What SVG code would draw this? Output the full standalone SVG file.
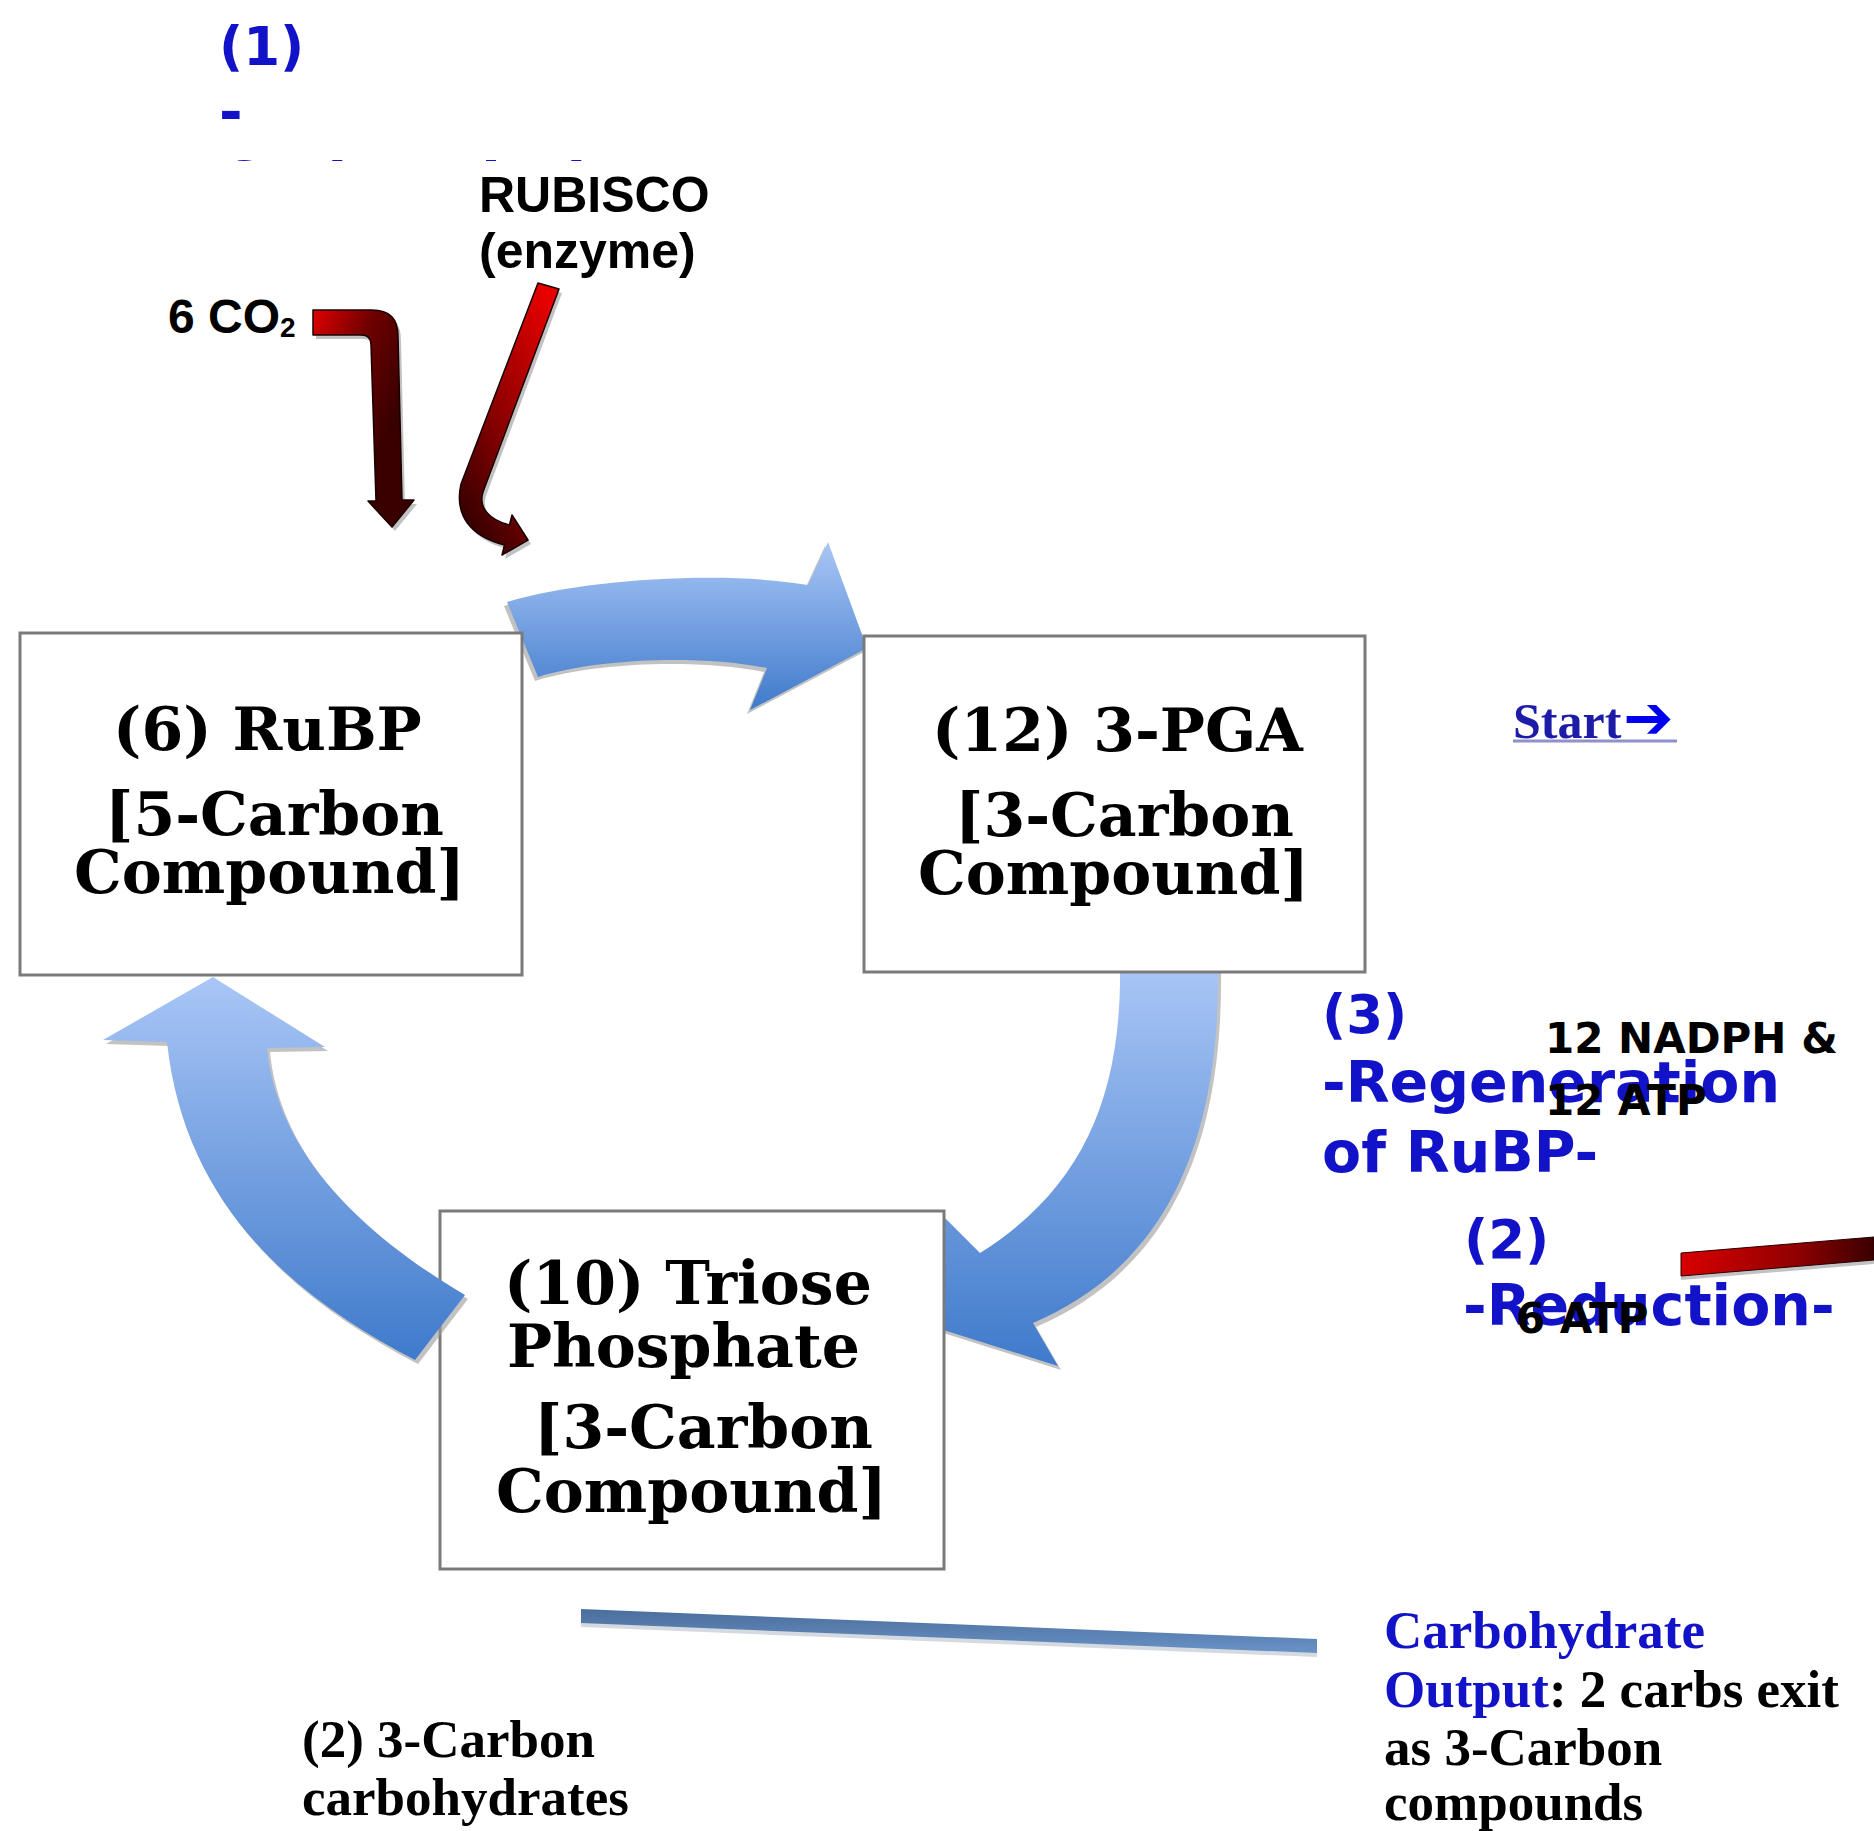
<svg xmlns="http://www.w3.org/2000/svg" width="1874" height="1831" viewBox="0 0 1874 1831">
<style>
.bx{fill:#fff;stroke:#7a7a7a;stroke-width:3}
.bt{font-family:"DejaVu Serif",serif;font-weight:bold;font-size:60px;fill:#000}
.bl{font-family:"DejaVu Sans",sans-serif;font-weight:bold;fill:#1212c8}
.ls{font-family:"Liberation Sans",Arial,sans-serif;font-weight:bold;fill:#000}
.dv{font-family:"DejaVu Sans",sans-serif;font-weight:bold;font-size:42px;fill:#000}
.sr{font-family:"Liberation Serif","Times New Roman",serif;font-weight:bold;font-size:53px;fill:#000}
.shadow{fill:#9a9a9a;opacity:0.6}
.barr{fill:url(#gBlue)}
.redA{stroke:#1a0000;stroke-width:1.5;stroke-linejoin:round}
</style>
<defs>
<linearGradient id="gBlue" x1="0" y1="0" x2="0" y2="1">
<stop offset="0" stop-color="#a9c6f6"/>
<stop offset="1" stop-color="#3f7acb"/>
</linearGradient>
<linearGradient id="gRedA" x1="0" y1="0" x2="0.7" y2="0.6">
<stop offset="0" stop-color="#e00000"/>
<stop offset="0.5" stop-color="#700000"/>
<stop offset="1" stop-color="#3a0000"/>
</linearGradient>
<linearGradient id="gRedB" x1="0.8" y1="0" x2="0.2" y2="1">
<stop offset="0" stop-color="#e80000"/>
<stop offset="0.55" stop-color="#8a0000"/>
<stop offset="1" stop-color="#300000"/>
</linearGradient>
<linearGradient id="gRedC" x1="0" y1="0" x2="1" y2="0">
<stop offset="0" stop-color="#d80000"/>
<stop offset="0.6" stop-color="#900000"/>
<stop offset="1" stop-color="#3a0000"/>
</linearGradient>
<linearGradient id="gLine" x1="0" y1="0" x2="0" y2="1">
<stop offset="0" stop-color="#4a6e9c"/>
<stop offset="1" stop-color="#6a92c6"/>
</linearGradient>
<clipPath id="clip1"><rect x="0" y="0" width="800" height="161"/></clipPath>
</defs>

<g id="connectors">
<g id="arrow-rubp-pga">
<path class="shadow" transform="translate(-3,4)" d="M507,602 C580,580 720,570 808,585 L828,542 L867,648 L750,710 L767,668 C700,655 600,658 538,677 Z"/>
<path class="barr" d="M507,602 C580,580 720,570 808,585 L828,542 L867,648 L750,710 L767,668 C700,655 600,658 538,677 Z"/>
</g>
<g id="arrow-pga-triose">
<path class="shadow" transform="translate(3,4)" d="M1120,965 L1218,965 C1220,1120 1180,1260 1033,1323 L1058,1366 L918,1322 L941,1214 L980,1253 C1080,1190 1122,1100 1120,965 Z"/>
<path class="barr" d="M1120,965 L1218,965 C1220,1120 1180,1260 1033,1323 L1058,1366 L918,1322 L941,1214 L980,1253 C1080,1190 1122,1100 1120,965 Z"/>
</g>
</g>

<g id="node-rubp">
<rect class="bx" x="20" y="633" width="502" height="342"/>
<text class="bt" x="113" y="750">(6) RuBP</text>
<text class="bt" x="105" y="835">[5-Carbon</text>
<text class="bt" x="74" y="893">Compound]</text>
</g>

<g id="node-3pga">
<rect class="bx" x="864" y="636" width="501" height="336"/>
<text class="bt" x="932" y="751">(12) 3-PGA</text>
<text class="bt" x="955" y="836">[3-Carbon</text>
<text class="bt" x="918" y="894">Compound]</text>
</g>

<g id="node-triose">
<rect class="bx" x="440" y="1211" width="504" height="358"/>
<text class="bt" x="504" y="1304">(10) Triose</text>
<text class="bt" x="507" y="1367">Phosphate</text>
<text class="bt" x="534" y="1448">[3-Carbon</text>
<text class="bt" x="496" y="1512">Compound]</text>
</g>

<g id="connectors-top">
<g id="arrow-triose-rubp">
<path class="shadow" transform="translate(3,4)" d="M213,977 L325,1047 L267,1048 C275,1130 330,1215 465,1295 L415,1360 C300,1300 185,1210 167,1042 L103,1040 Z"/>
<path class="barr" d="M213,977 L325,1047 L267,1048 C275,1130 330,1215 465,1295 L415,1360 C300,1300 185,1210 167,1042 L103,1040 Z"/>
</g>
<g id="arrow-co2">
<path class="shadow" transform="translate(3,4)" d="M313,310 L372,310 Q398,310 398,336 L402,500 L414,500 L392,527 L368,501 L376,501 L371,345 Q371,335 361,335 L313,335 Z"/>
<path class="redA" fill="url(#gRedA)" d="M313,310 L372,310 Q398,310 398,336 L402,500 L414,500 L392,527 L368,501 L376,501 L371,345 Q371,335 361,335 L313,335 Z"/>
</g>
<g id="arrow-rubisco">
<path class="shadow" transform="translate(3,4)" d="M538,283 L559,289 L483,492 C478,508 490,520 509.5,525 L512,515 L528,540 L502,555 L504.5,545 C470,536 454,515 461,484 Z"/>
<path class="redA" fill="url(#gRedB)" d="M538,283 L559,289 L483,492 C478,508 490,520 509.5,525 L512,515 L528,540 L502,555 L504.5,545 C470,536 454,515 461,484 Z"/>
</g>
<g id="arrow-atp">
<path class="shadow" transform="translate(0,4)" d="M1681,1253 L1874,1237 L1874,1260 L1681,1276 Z"/>
<path fill="url(#gRedC)" stroke="#2a0000" stroke-width="1" d="M1681,1253 L1874,1237 L1874,1260 L1681,1276 Z"/>
</g>
<g id="line-output">
<path fill="#b8c2cc" opacity="0.6" d="M581,1620 L1317,1650 L1317,1657 L581,1627 Z"/>
<path fill="url(#gLine)" d="M581,1609 L1317,1639 L1317,1653 L581,1623 Z"/>
</g>
</g>

<g id="label-1">
<text class="bl" x="219" y="65" font-size="53">(1)</text>
<text class="bl" x="219" y="131" font-size="57">-</text>
<text class="bl" x="219" y="203" font-size="57" clip-path="url(#clip1)">Carboxylation-</text>
</g>

<g id="label-rubisco">
<text class="ls" x="479" y="212" font-size="50">RUBISCO</text>
<text class="ls" x="479" y="268" font-size="50">(enzyme)</text>
</g>

<g id="label-co2">
<text class="ls" x="168" y="333" font-size="48">6 CO<tspan font-size="28" dy="4">2</tspan></text>
</g>

<g id="label-start">
<text x="1513" y="738"><tspan font-family="Liberation Serif, serif" font-weight="bold" font-size="50" fill="#1c1ca8">Start</tspan><tspan font-family="DejaVu Sans, sans-serif" font-weight="bold" font-size="60" fill="#0000ee" dx="2">➔</tspan></text>
<line x1="1513" y1="741" x2="1677" y2="741" stroke="#9090cc" stroke-width="3"/>
</g>

<g id="label-3">
<text class="bl" x="1322" y="1033" font-size="53">(3)</text>
<text class="bl" x="1322" y="1102" font-size="57">-Regeneration</text>
<text class="bl" x="1322" y="1172" font-size="57">of RuBP-</text>
</g>

<g id="label-nadph">
<text class="dv" x="1545" y="1053">12 NADPH &amp;</text>
<text class="dv" x="1545" y="1115">12 ATP</text>
</g>

<g id="label-2">
<text class="bl" x="1464" y="1258" font-size="53">(2)</text>
<text class="bl" x="1463" y="1325" font-size="57">-Reduction-</text>
<text class="dv" x="1516" y="1333">6 ATP</text>
</g>

<g id="label-carbs">
<text class="sr" x="302" y="1757">(2) 3-Carbon</text>
<text class="sr" x="302" y="1815">carbohydrates</text>
</g>

<g id="label-output">
<text class="sr" x="1384" y="1648" style="fill:#1212c8">Carbohydrate</text>
<text class="sr" x="1384" y="1707"><tspan style="fill:#1212c8">Output</tspan>: 2 carbs exit</text>
<text class="sr" x="1384" y="1765">as 3-Carbon</text>
<text class="sr" x="1384" y="1820">compounds</text>
</g>
</svg>
